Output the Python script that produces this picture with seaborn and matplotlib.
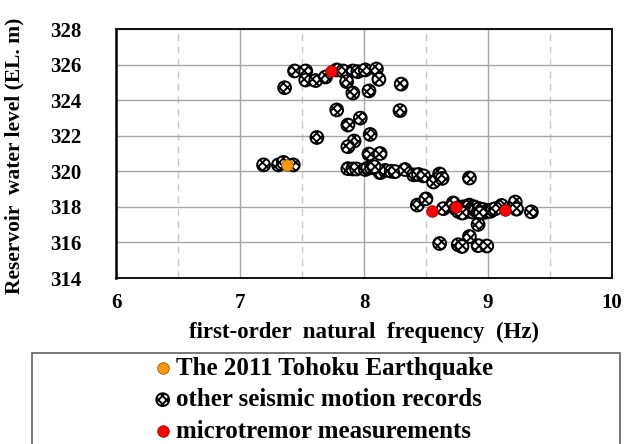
import numpy as np
import pandas as pd
import matplotlib
matplotlib.use('Agg')
import matplotlib.pyplot as plt
import seaborn as sns
from matplotlib.patches import Rectangle

sns.set_style('white')
plt.rcParams['font.family'] = ['Liberation Serif', 'DejaVu Serif']
plt.rcParams['font.weight'] = 'bold'
plt.rcParams['hatch.linewidth'] = 1.4
plt.rcParams['text.color'] = 'black'
plt.rcParams['axes.labelcolor'] = 'black'
plt.rcParams['xtick.color'] = 'black'
plt.rcParams['ytick.color'] = 'black'

# other seismic motion records (frequency Hz, water level EL. m)
other_freq = [7.19, 7.31, 7.35, 7.43, 7.36, 7.44, 7.53, 7.53, 7.61, 7.69, 7.78, 7.83, 7.91,
              7.95, 8.01, 8.10, 7.86, 8.12, 8.30, 7.91, 8.04, 7.78, 8.29, 7.97, 7.87, 8.05,
              7.62, 7.92, 7.87, 8.04, 8.13,
              7.87, 7.91, 7.94, 8.01, 8.03, 8.06, 8.09, 8.13, 8.17, 8.22, 8.25, 8.33, 8.40,
              8.44, 8.48, 8.56, 8.61, 8.63, 8.85, 8.08,
              8.43, 8.50, 8.64, 8.72, 8.85, 9.11, 9.22, 9.23, 9.35,
              8.74, 8.76, 8.78, 8.80, 8.81, 8.83, 8.84, 8.86, 8.87, 8.88, 8.89, 8.90, 8.92,
              8.93, 8.95, 8.96, 8.98, 9.00, 9.02, 9.04, 9.06, 8.79, 8.94,
              8.92, 8.85, 8.61, 8.76, 8.79, 8.92, 8.99]
other_level = [320.36, 320.36, 320.50, 320.36, 324.70, 325.64, 325.64, 325.13, 325.10, 325.30,
               325.70, 325.64, 325.64, 325.60, 325.70, 325.75, 325.04, 325.17, 324.90, 324.40,
               324.52, 323.45, 323.41, 322.99, 322.60, 322.07, 321.90, 321.70, 321.38, 320.97,
               321.00,
               320.15, 320.13, 320.13, 320.10, 320.17, 320.20, 320.18, 319.92, 320.05, 320.00,
               319.98, 320.10, 319.80, 319.82, 319.74, 319.40, 319.85, 319.60, 319.62, 320.26,
               318.10, 318.45, 317.90, 318.22, 318.10, 318.08, 318.27, 317.87, 317.72,
               317.90, 317.75, 317.85, 318.00, 317.70, 317.80, 318.05, 317.75, 317.90, 317.70,
               318.00, 317.80, 317.70, 317.90, 317.75, 317.85, 317.70, 317.80, 317.75, 317.85,
               317.90, 317.65, 317.65,
               317.01, 316.33, 315.94, 315.87, 315.77, 315.82, 315.80]

# The 2011 Tohoku Earthquake
tohoku_freq = [7.38]
tohoku_level = [320.36]

# microtremor measurements
micro_freq = [7.73, 8.55, 8.74, 9.14]
micro_level = [325.65, 317.78, 318.02, 317.83]

labels = ['The 2011 Tohoku Earthquake', 'other seismic motion records', 'microtremor measurements']

other = pd.DataFrame({'freq': other_freq, 'level': other_level})
tohoku = pd.DataFrame({'freq': tohoku_freq, 'level': tohoku_level})
micro = pd.DataFrame({'freq': micro_freq, 'level': micro_level})

fig = plt.figure(figsize=(6.25, 4.44), dpi=100)
ax = fig.add_axes([116/625, 1-278/444, 496/625, 249/444])

sns.scatterplot(data=other, x='freq', y='level', ax=ax, s=85, facecolor='white',
                edgecolor='black', linewidth=1.4, hatch='xxxx', zorder=3)
sns.scatterplot(data=tohoku, x='freq', y='level', ax=ax, s=70, color='#FF9900',
                edgecolor='#7a4a00', linewidth=0.5, zorder=4)
sns.scatterplot(data=micro, x='freq', y='level', ax=ax, s=70, color='#FF0000',
                edgecolor='#800000', linewidth=0.5, zorder=5)

ax.set_xlim(6, 10)
ax.set_ylim(314, 328)
ax.set_xticks([6, 7, 8, 9, 10])
ax.set_yticks(range(314, 329, 2))
ax.set_xticks([6.5, 7.5, 8.5, 9.5], minor=True)
ax.grid(True, which='major', color='#a6a6a6', linewidth=1.0, linestyle='-')
ax.grid(True, which='minor', axis='x', color='#c8c8c8', linewidth=1.0, linestyle=(0, (5, 4)))
ax.set_axisbelow(True)
ax.tick_params(axis='both', which='both', length=0, labelsize=15, labelcolor='black')
ax.tick_params(axis='y', pad=25)
ax.tick_params(axis='x', pad=11)
for sp in ax.spines.values():
    sp.set_color('black')
    sp.set_linewidth(1.3)
ax.spines['left'].set_linewidth(1.8)

ax.set_xlabel('first-order  natural  frequency  (Hz)', fontsize=16.5, fontweight='bold')
ax.set_ylabel('Reservoir  water level (EL. m)', fontsize=15.5, fontweight='bold')
ax.xaxis.set_label_coords(0.5, -0.175)
ax.yaxis.set_label_coords(-0.185, 0.49)

# legend box below the chart
fig.patches.append(Rectangle((32/625, -0.1), 588/625, (444-353)/444 + 0.1,
                             transform=fig.transFigure, facecolor='white',
                             edgecolor='#606060', linewidth=1.2))
h = ax.collections
leg = fig.legend([h[1], h[0], h[2]], labels, loc='upper left',
                 bbox_to_anchor=(154/625, 1-357/444), frameon=False, fontsize=18,
                 handlelength=0.7, handletextpad=0.2, labelspacing=0.33,
                 borderpad=0, borderaxespad=0, markerscale=1.0, labelcolor='black')

fig.savefig('out.png', dpi=100)
